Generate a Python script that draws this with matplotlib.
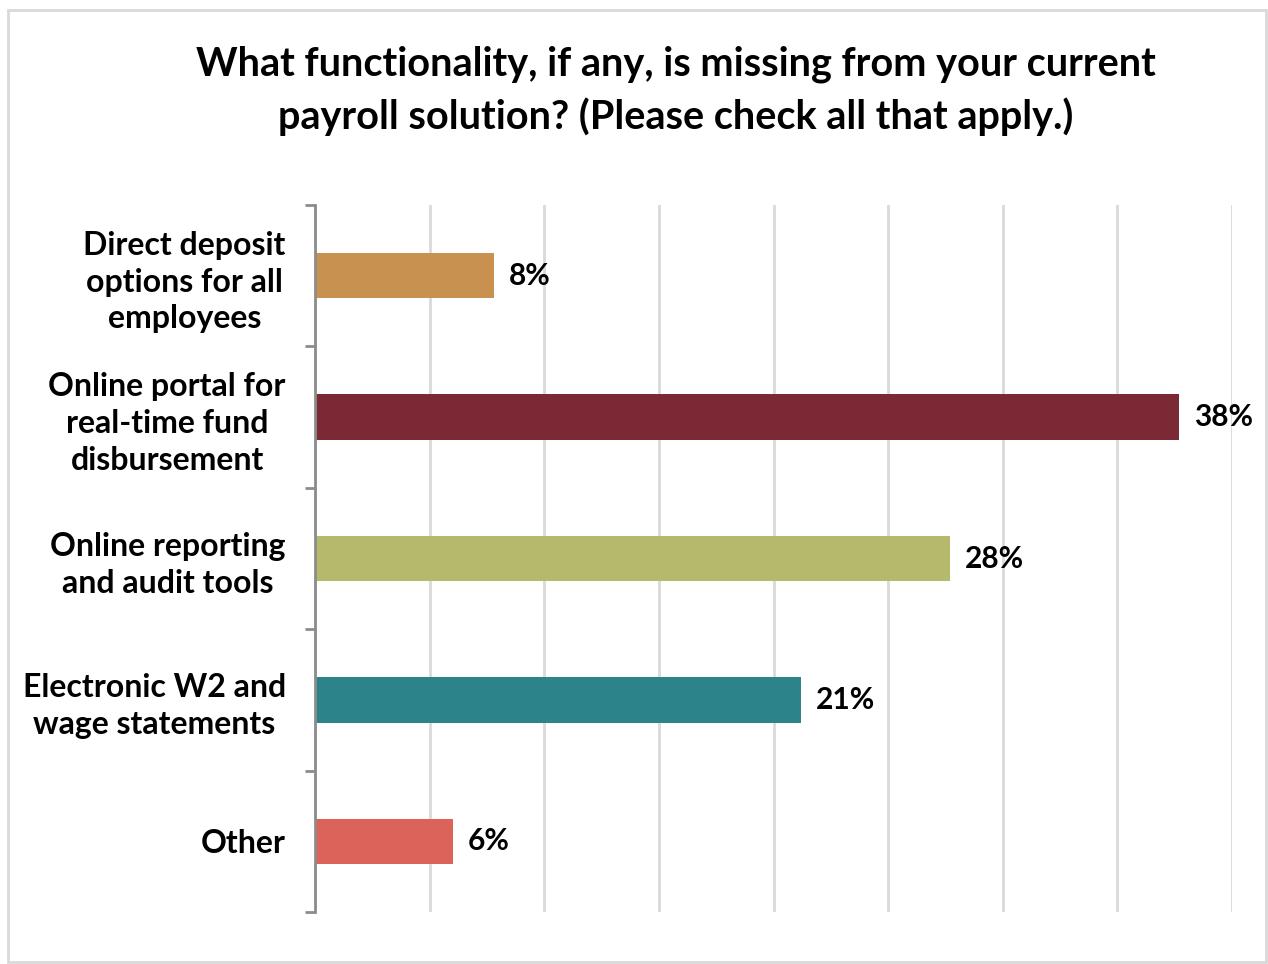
import matplotlib
matplotlib.use("Agg")
import matplotlib.pyplot as plt
from matplotlib.patches import Rectangle

# ── Data ───────────────────────────────────────────────────────────────────
categories = [
    "Direct deposit\noptions for all\nemployees",
    "Online portal for\nreal-time fund\ndisbursement",
    "Online reporting\nand audit tools",
    "Electronic W2 and\nwage statements",
    "Other",
]
values = [7.8, 37.7, 27.7, 21.2, 6.0]
bar_colors = ["#C8914F", "#7B2A35", "#B5B96B", "#2C838A", "#DB635A"]
title = ("What functionality, if any, is missing from your current\n"
         "payroll solution? (Please check all that apply.)")

# ── Plot ───────────────────────────────────────────────────────────────────
plt.rcParams["font.family"] = ["Lato", "DejaVu Sans"]
plt.rcParams["font.weight"] = "bold"

fig = plt.figure(figsize=(12.68, 9.64), dpi=100)
fig.patches.append(Rectangle((8 / 1268, 2 / 964), 1258 / 1268, 952 / 964,
                             transform=fig.transFigure, fill=False,
                             edgecolor="#D9D9D9", linewidth=2))

ax = fig.add_axes([315 / 1268, 52 / 964, 917 / 1268, 707 / 964])

y = list(range(len(categories)))
ax.barh(y, values, height=0.32, color=bar_colors, zorder=3)

for yi, v in zip(y, values):
    ax.text(v + 0.65, yi, f"{round(v):.0f}%", va="center", ha="left",
            fontsize=21.5, fontweight="bold", color="black")

ax.set_xlim(0, 40)
ax.set_ylim(len(categories) - 0.5, -0.5)
ax.set_xticks(range(0, 41, 5))
ax.tick_params(axis="x", length=0, labelbottom=False)
ax.grid(axis="x", color="#D9D9D9", linewidth=2, zorder=0)

# category boundaries as ticks, labels at centres
ax.set_yticks([i - 0.5 for i in range(len(categories) + 1)])
ax.set_yticklabels([])
ax.tick_params(axis="y", which="major", length=7, width=2, color="#8C8C8C")
ax.set_yticks(y, minor=True)
ax.set_yticklabels(categories, minor=True, fontsize=23, fontweight="bold",
                   multialignment="center", linespacing=1.32)
ax.tick_params(axis="y", which="minor", length=0, pad=21)

for s in ["top", "right", "bottom"]:
    ax.spines[s].set_visible(False)
ax.spines["left"].set_color("#8C8C8C")
ax.spines["left"].set_linewidth(2)
ax.spines["left"].set_zorder(4)

fig.text(0.533, 0.906, title, ha="center", va="center", fontsize=28.5,
         fontweight="bold", linespacing=1.45)

fig.savefig("out.png", dpi=100)
